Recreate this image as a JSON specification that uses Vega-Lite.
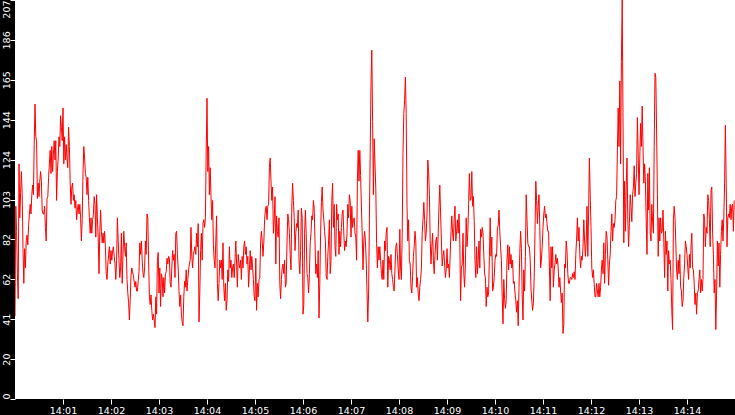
{
  "$schema": "https://vega.github.io/schema/vega-lite/v6.json",
  "width": 720,
  "height": 399,
  "autosize": "none",
  "padding": {"left": 15, "top": 0, "right": 0, "bottom": 16},
  "background": "#000000",
  "view": {"fill": "#ffffff", "stroke": null},
  "data": {
    "format": {"parse": {"t": "date:'%H:%M:%S'"}},
    "values": [
{"t":"14:00:00","v":43},{"t":"14:00:01","v":100},{"t":"14:00:02","v":87},{"t":"14:00:03","v":65},{"t":"14:00:04","v":52},{"t":"14:00:05","v":122},{"t":"14:00:06","v":94},{"t":"14:00:07","v":107},{"t":"14:00:08","v":118},{"t":"14:00:09","v":106},
{"t":"14:00:10","v":78},{"t":"14:00:11","v":60},{"t":"14:00:12","v":78},{"t":"14:00:13","v":68},{"t":"14:00:14","v":82},{"t":"14:00:15","v":85},{"t":"14:00:16","v":80},{"t":"14:00:17","v":90},{"t":"14:00:18","v":96},{"t":"14:00:19","v":101},
{"t":"14:00:20","v":96},{"t":"14:00:21","v":106},{"t":"14:00:22","v":111},{"t":"14:00:23","v":106},{"t":"14:00:24","v":132},{"t":"14:00:25","v":153},{"t":"14:00:26","v":136},{"t":"14:00:27","v":134},{"t":"14:00:28","v":104},{"t":"14:00:29","v":112},
{"t":"14:00:30","v":105},{"t":"14:00:31","v":113},{"t":"14:00:32","v":118},{"t":"14:00:33","v":113},{"t":"14:00:34","v":98},{"t":"14:00:35","v":96},{"t":"14:00:36","v":96},{"t":"14:00:37","v":100},{"t":"14:00:38","v":89},{"t":"14:00:39","v":82},
{"t":"14:00:40","v":104},{"t":"14:00:41","v":105},{"t":"14:00:42","v":115},{"t":"14:00:43","v":122},{"t":"14:00:44","v":129},{"t":"14:00:45","v":117},{"t":"14:00:46","v":131},{"t":"14:00:47","v":118},{"t":"14:00:48","v":127},{"t":"14:00:49","v":134},
{"t":"14:00:50","v":124},{"t":"14:00:51","v":134},{"t":"14:00:52","v":103},{"t":"14:00:53","v":118},{"t":"14:00:54","v":125},{"t":"14:00:55","v":136},{"t":"14:00:56","v":131},{"t":"14:00:57","v":147},{"t":"14:00:58","v":141},{"t":"14:00:59","v":134},
{"t":"14:01:00","v":151},{"t":"14:01:01","v":122},{"t":"14:01:02","v":136},{"t":"14:01:03","v":124},{"t":"14:01:04","v":132},{"t":"14:01:05","v":125},{"t":"14:01:06","v":120},{"t":"14:01:07","v":141},{"t":"14:01:08","v":131},{"t":"14:01:09","v":112},
{"t":"14:01:10","v":101},{"t":"14:01:11","v":110},{"t":"14:01:12","v":112},{"t":"14:01:13","v":103},{"t":"14:01:14","v":106},{"t":"14:01:15","v":99},{"t":"14:01:16","v":103},{"t":"14:01:17","v":93},{"t":"14:01:18","v":98},{"t":"14:01:19","v":101},
{"t":"14:01:20","v":96},{"t":"14:01:21","v":101},{"t":"14:01:22","v":94},{"t":"14:01:23","v":82},{"t":"14:01:24","v":93},{"t":"14:01:25","v":117},{"t":"14:01:26","v":131},{"t":"14:01:27","v":125},{"t":"14:01:28","v":117},{"t":"14:01:29","v":115},
{"t":"14:01:30","v":106},{"t":"14:01:31","v":115},{"t":"14:01:32","v":103},{"t":"14:01:33","v":94},{"t":"14:01:34","v":86},{"t":"14:01:35","v":94},{"t":"14:01:36","v":86},{"t":"14:01:37","v":93},{"t":"14:01:38","v":96},{"t":"14:01:39","v":105},
{"t":"14:01:40","v":101},{"t":"14:01:41","v":84},{"t":"14:01:42","v":106},{"t":"14:01:43","v":94},{"t":"14:01:44","v":84},{"t":"14:01:45","v":65},{"t":"14:01:46","v":87},{"t":"14:01:47","v":98},{"t":"14:01:48","v":87},{"t":"14:01:49","v":81},
{"t":"14:01:50","v":86},{"t":"14:01:51","v":81},{"t":"14:01:52","v":87},{"t":"14:01:53","v":79},{"t":"14:01:54","v":65},{"t":"14:01:55","v":62},{"t":"14:01:56","v":70},{"t":"14:01:57","v":75},{"t":"14:01:58","v":79},{"t":"14:01:59","v":70},
{"t":"14:02:00","v":77},{"t":"14:02:01","v":72},{"t":"14:02:02","v":77},{"t":"14:02:03","v":79},{"t":"14:02:04","v":74},{"t":"14:02:05","v":70},{"t":"14:02:06","v":62},{"t":"14:02:07","v":72},{"t":"14:02:08","v":94},{"t":"14:02:09","v":82},
{"t":"14:02:10","v":72},{"t":"14:02:11","v":63},{"t":"14:02:12","v":68},{"t":"14:02:13","v":86},{"t":"14:02:14","v":60},{"t":"14:02:15","v":75},{"t":"14:02:16","v":87},{"t":"14:02:17","v":79},{"t":"14:02:18","v":74},{"t":"14:02:19","v":81},
{"t":"14:02:20","v":62},{"t":"14:02:21","v":55},{"t":"14:02:22","v":50},{"t":"14:02:23","v":41},{"t":"14:02:24","v":51},{"t":"14:02:25","v":64},{"t":"14:02:26","v":68},{"t":"14:02:27","v":66},{"t":"14:02:28","v":64},{"t":"14:02:29","v":61},
{"t":"14:02:30","v":58},{"t":"14:02:31","v":61},{"t":"14:02:32","v":56},{"t":"14:02:33","v":56},{"t":"14:02:34","v":61},{"t":"14:02:35","v":66},{"t":"14:02:36","v":81},{"t":"14:02:37","v":75},{"t":"14:02:38","v":82},{"t":"14:02:39","v":72},
{"t":"14:02:40","v":65},{"t":"14:02:41","v":63},{"t":"14:02:42","v":68},{"t":"14:02:43","v":82},{"t":"14:02:44","v":75},{"t":"14:02:45","v":96},{"t":"14:02:46","v":94},{"t":"14:02:47","v":72},{"t":"14:02:48","v":53},{"t":"14:02:49","v":49},
{"t":"14:02:50","v":54},{"t":"14:02:51","v":46},{"t":"14:02:52","v":41},{"t":"14:02:53","v":44},{"t":"14:02:54","v":41},{"t":"14:02:55","v":37},{"t":"14:02:56","v":53},{"t":"14:02:57","v":44},{"t":"14:02:58","v":72},{"t":"14:02:59","v":76},
{"t":"14:03:00","v":55},{"t":"14:03:01","v":68},{"t":"14:03:02","v":48},{"t":"14:03:03","v":65},{"t":"14:03:04","v":63},{"t":"14:03:05","v":53},{"t":"14:03:06","v":63},{"t":"14:03:07","v":55},{"t":"14:03:08","v":65},{"t":"14:03:09","v":66},
{"t":"14:03:10","v":73},{"t":"14:03:11","v":70},{"t":"14:03:12","v":74},{"t":"14:03:13","v":73},{"t":"14:03:14","v":60},{"t":"14:03:15","v":58},{"t":"14:03:16","v":68},{"t":"14:03:17","v":77},{"t":"14:03:18","v":72},{"t":"14:03:19","v":75},
{"t":"14:03:20","v":63},{"t":"14:03:21","v":86},{"t":"14:03:22","v":87},{"t":"14:03:23","v":75},{"t":"14:03:24","v":68},{"t":"14:03:25","v":56},{"t":"14:03:26","v":48},{"t":"14:03:27","v":54},{"t":"14:03:28","v":44},{"t":"14:03:29","v":40},
{"t":"14:03:30","v":38},{"t":"14:03:31","v":53},{"t":"14:03:32","v":61},{"t":"14:03:33","v":58},{"t":"14:03:34","v":67},{"t":"14:03:35","v":56},{"t":"14:03:36","v":62},{"t":"14:03:37","v":67},{"t":"14:03:38","v":70},{"t":"14:03:39","v":72},
{"t":"14:03:40","v":89},{"t":"14:03:41","v":74},{"t":"14:03:42","v":68},{"t":"14:03:43","v":75},{"t":"14:03:44","v":77},{"t":"14:03:45","v":79},{"t":"14:03:46","v":75},{"t":"14:03:47","v":86},{"t":"14:03:48","v":79},{"t":"14:03:49","v":91},
{"t":"14:03:50","v":40},{"t":"14:03:51","v":55},{"t":"14:03:52","v":77},{"t":"14:03:53","v":86},{"t":"14:03:54","v":72},{"t":"14:03:55","v":91},{"t":"14:03:56","v":93},{"t":"14:03:57","v":89},{"t":"14:03:58","v":94},{"t":"14:03:59","v":129},
{"t":"14:04:00","v":156},{"t":"14:04:01","v":118},{"t":"14:04:02","v":131},{"t":"14:04:03","v":106},{"t":"14:04:04","v":120},{"t":"14:04:05","v":105},{"t":"14:04:06","v":93},{"t":"14:04:07","v":103},{"t":"14:04:08","v":80},{"t":"14:04:09","v":72},
{"t":"14:04:10","v":68},{"t":"14:04:11","v":82},{"t":"14:04:12","v":95},{"t":"14:04:13","v":60},{"t":"14:04:14","v":51},{"t":"14:04:15","v":60},{"t":"14:04:16","v":72},{"t":"14:04:17","v":68},{"t":"14:04:18","v":72},{"t":"14:04:19","v":62},
{"t":"14:04:20","v":81},{"t":"14:04:21","v":58},{"t":"14:04:22","v":51},{"t":"14:04:23","v":60},{"t":"14:04:24","v":46},{"t":"14:04:25","v":51},{"t":"14:04:26","v":67},{"t":"14:04:27","v":61},{"t":"14:04:28","v":79},{"t":"14:04:29","v":68},
{"t":"14:04:30","v":72},{"t":"14:04:31","v":63},{"t":"14:04:32","v":68},{"t":"14:04:33","v":70},{"t":"14:04:34","v":63},{"t":"14:04:35","v":72},{"t":"14:04:36","v":82},{"t":"14:04:37","v":70},{"t":"14:04:38","v":58},{"t":"14:04:39","v":75},
{"t":"14:04:40","v":70},{"t":"14:04:41","v":68},{"t":"14:04:42","v":72},{"t":"14:04:43","v":62},{"t":"14:04:44","v":74},{"t":"14:04:45","v":68},{"t":"14:04:46","v":79},{"t":"14:04:47","v":82},{"t":"14:04:48","v":75},{"t":"14:04:49","v":79},
{"t":"14:04:50","v":70},{"t":"14:04:51","v":74},{"t":"14:04:52","v":58},{"t":"14:04:53","v":67},{"t":"14:04:54","v":77},{"t":"14:04:55","v":67},{"t":"14:04:56","v":74},{"t":"14:04:57","v":68},{"t":"14:04:58","v":62},{"t":"14:04:59","v":53},
{"t":"14:05:00","v":51},{"t":"14:05:01","v":73},{"t":"14:05:02","v":46},{"t":"14:05:03","v":60},{"t":"14:05:04","v":53},{"t":"14:05:05","v":62},{"t":"14:05:06","v":63},{"t":"14:05:07","v":81},{"t":"14:05:08","v":87},{"t":"14:05:09","v":82},
{"t":"14:05:10","v":74},{"t":"14:05:11","v":81},{"t":"14:05:12","v":93},{"t":"14:05:13","v":98},{"t":"14:05:14","v":100},{"t":"14:05:15","v":93},{"t":"14:05:16","v":100},{"t":"14:05:17","v":101},{"t":"14:05:18","v":120},{"t":"14:05:19","v":125},
{"t":"14:05:20","v":113},{"t":"14:05:21","v":103},{"t":"14:05:22","v":110},{"t":"14:05:23","v":86},{"t":"14:05:24","v":93},{"t":"14:05:25","v":105},{"t":"14:05:26","v":70},{"t":"14:05:27","v":95},{"t":"14:05:28","v":87},{"t":"14:05:29","v":84},
{"t":"14:05:30","v":94},{"t":"14:05:31","v":60},{"t":"14:05:32","v":52},{"t":"14:05:33","v":62},{"t":"14:05:34","v":68},{"t":"14:05:35","v":70},{"t":"14:05:36","v":65},{"t":"14:05:37","v":72},{"t":"14:05:38","v":58},{"t":"14:05:39","v":60},
{"t":"14:05:40","v":81},{"t":"14:05:41","v":96},{"t":"14:05:42","v":93},{"t":"14:05:43","v":86},{"t":"14:05:44","v":75},{"t":"14:05:45","v":67},{"t":"14:05:46","v":100},{"t":"14:05:47","v":112},{"t":"14:05:48","v":103},{"t":"14:05:49","v":94},
{"t":"14:05:50","v":77},{"t":"14:05:51","v":86},{"t":"14:05:52","v":91},{"t":"14:05:53","v":89},{"t":"14:05:54","v":98},{"t":"14:05:55","v":72},{"t":"14:05:56","v":65},{"t":"14:05:57","v":77},{"t":"14:05:58","v":99},{"t":"14:05:59","v":94},
{"t":"14:06:00","v":44},{"t":"14:06:01","v":49},{"t":"14:06:02","v":86},{"t":"14:06:03","v":98},{"t":"14:06:04","v":86},{"t":"14:06:05","v":65},{"t":"14:06:06","v":63},{"t":"14:06:07","v":55},{"t":"14:06:08","v":65},{"t":"14:06:09","v":81},
{"t":"14:06:10","v":86},{"t":"14:06:11","v":95},{"t":"14:06:12","v":93},{"t":"14:06:13","v":103},{"t":"14:06:14","v":99},{"t":"14:06:15","v":82},{"t":"14:06:16","v":65},{"t":"14:06:17","v":70},{"t":"14:06:18","v":63},{"t":"14:06:19","v":77},
{"t":"14:06:20","v":42},{"t":"14:06:21","v":60},{"t":"14:06:22","v":86},{"t":"14:06:23","v":102},{"t":"14:06:24","v":110},{"t":"14:06:25","v":98},{"t":"14:06:26","v":93},{"t":"14:06:27","v":87},{"t":"14:06:28","v":82},{"t":"14:06:29","v":64},
{"t":"14:06:30","v":62},{"t":"14:06:31","v":74},{"t":"14:06:32","v":82},{"t":"14:06:33","v":93},{"t":"14:06:34","v":65},{"t":"14:06:35","v":72},{"t":"14:06:36","v":103},{"t":"14:06:37","v":112},{"t":"14:06:38","v":89},{"t":"14:06:39","v":101},
{"t":"14:06:40","v":79},{"t":"14:06:41","v":74},{"t":"14:06:42","v":101},{"t":"14:06:43","v":93},{"t":"14:06:44","v":96},{"t":"14:06:45","v":75},{"t":"14:06:46","v":87},{"t":"14:06:47","v":79},{"t":"14:06:48","v":89},{"t":"14:06:49","v":96},
{"t":"14:06:50","v":98},{"t":"14:06:51","v":86},{"t":"14:06:52","v":77},{"t":"14:06:53","v":82},{"t":"14:06:54","v":79},{"t":"14:06:55","v":86},{"t":"14:06:56","v":101},{"t":"14:06:57","v":94},{"t":"14:06:58","v":106},{"t":"14:06:59","v":103},
{"t":"14:07:00","v":84},{"t":"14:07:01","v":100},{"t":"14:07:02","v":89},{"t":"14:07:03","v":93},{"t":"14:07:04","v":94},{"t":"14:07:05","v":86},{"t":"14:07:06","v":84},{"t":"14:07:07","v":72},{"t":"14:07:08","v":113},{"t":"14:07:09","v":129},
{"t":"14:07:10","v":113},{"t":"14:07:11","v":129},{"t":"14:07:12","v":116},{"t":"14:07:13","v":100},{"t":"14:07:14","v":86},{"t":"14:07:15","v":67},{"t":"14:07:16","v":82},{"t":"14:07:17","v":87},{"t":"14:07:18","v":82},{"t":"14:07:19","v":72},
{"t":"14:07:20","v":56},{"t":"14:07:21","v":40},{"t":"14:07:22","v":55},{"t":"14:07:23","v":93},{"t":"14:07:24","v":128},{"t":"14:07:25","v":164},{"t":"14:07:26","v":181},{"t":"14:07:27","v":144},{"t":"14:07:28","v":106},{"t":"14:07:29","v":135},
{"t":"14:07:30","v":122},{"t":"14:07:31","v":109},{"t":"14:07:32","v":81},{"t":"14:07:33","v":68},{"t":"14:07:34","v":79},{"t":"14:07:35","v":72},{"t":"14:07:36","v":79},{"t":"14:07:37","v":72},{"t":"14:07:38","v":65},{"t":"14:07:39","v":62},
{"t":"14:07:40","v":72},{"t":"14:07:41","v":62},{"t":"14:07:42","v":82},{"t":"14:07:43","v":77},{"t":"14:07:44","v":86},{"t":"14:07:45","v":89},{"t":"14:07:46","v":58},{"t":"14:07:47","v":74},{"t":"14:07:48","v":72},{"t":"14:07:49","v":67},
{"t":"14:07:50","v":75},{"t":"14:07:51","v":65},{"t":"14:07:52","v":62},{"t":"14:07:53","v":58},{"t":"14:07:54","v":56},{"t":"14:07:55","v":68},{"t":"14:07:56","v":79},{"t":"14:07:57","v":81},{"t":"14:07:58","v":75},{"t":"14:07:59","v":67},
{"t":"14:08:00","v":62},{"t":"14:08:01","v":88},{"t":"14:08:02","v":68},{"t":"14:08:03","v":62},{"t":"14:08:04","v":86},{"t":"14:08:05","v":128},{"t":"14:08:06","v":148},{"t":"14:08:07","v":155},{"t":"14:08:08","v":167},{"t":"14:08:09","v":148},
{"t":"14:08:10","v":100},{"t":"14:08:11","v":82},{"t":"14:08:12","v":93},{"t":"14:08:13","v":72},{"t":"14:08:14","v":70},{"t":"14:08:15","v":58},{"t":"14:08:16","v":55},{"t":"14:08:17","v":64},{"t":"14:08:18","v":74},{"t":"14:08:19","v":79},
{"t":"14:08:20","v":87},{"t":"14:08:21","v":82},{"t":"14:08:22","v":58},{"t":"14:08:23","v":63},{"t":"14:08:24","v":55},{"t":"14:08:25","v":51},{"t":"14:08:26","v":58},{"t":"14:08:27","v":62},{"t":"14:08:28","v":68},{"t":"14:08:29","v":86},
{"t":"14:08:30","v":93},{"t":"14:08:31","v":102},{"t":"14:08:32","v":93},{"t":"14:08:33","v":82},{"t":"14:08:34","v":86},{"t":"14:08:35","v":96},{"t":"14:08:36","v":124},{"t":"14:08:37","v":118},{"t":"14:08:38","v":106},{"t":"14:08:39","v":82},
{"t":"14:08:40","v":70},{"t":"14:08:41","v":79},{"t":"14:08:42","v":86},{"t":"14:08:43","v":72},{"t":"14:08:44","v":65},{"t":"14:08:45","v":75},{"t":"14:08:46","v":82},{"t":"14:08:47","v":84},{"t":"14:08:48","v":72},{"t":"14:08:49","v":86},
{"t":"14:08:50","v":100},{"t":"14:08:51","v":111},{"t":"14:08:52","v":96},{"t":"14:08:53","v":82},{"t":"14:08:54","v":69},{"t":"14:08:55","v":74},{"t":"14:08:56","v":77},{"t":"14:08:57","v":70},{"t":"14:08:58","v":63},{"t":"14:08:59","v":67},
{"t":"14:09:00","v":78},{"t":"14:09:01","v":68},{"t":"14:09:02","v":70},{"t":"14:09:03","v":63},{"t":"14:09:04","v":75},{"t":"14:09:05","v":87},{"t":"14:09:06","v":95},{"t":"14:09:07","v":86},{"t":"14:09:08","v":82},{"t":"14:09:09","v":94},
{"t":"14:09:10","v":100},{"t":"14:09:11","v":82},{"t":"14:09:12","v":87},{"t":"14:09:13","v":93},{"t":"14:09:14","v":86},{"t":"14:09:15","v":96},{"t":"14:09:16","v":82},{"t":"14:09:17","v":51},{"t":"14:09:18","v":68},{"t":"14:09:19","v":70},
{"t":"14:09:20","v":86},{"t":"14:09:21","v":65},{"t":"14:09:22","v":58},{"t":"14:09:23","v":70},{"t":"14:09:24","v":94},{"t":"14:09:25","v":79},{"t":"14:09:26","v":86},{"t":"14:09:27","v":101},{"t":"14:09:28","v":117},{"t":"14:09:29","v":103},
{"t":"14:09:30","v":104},{"t":"14:09:31","v":118},{"t":"14:09:32","v":100},{"t":"14:09:33","v":105},{"t":"14:09:34","v":93},{"t":"14:09:35","v":72},{"t":"14:09:36","v":63},{"t":"14:09:37","v":79},{"t":"14:09:38","v":65},{"t":"14:09:39","v":72},
{"t":"14:09:40","v":82},{"t":"14:09:41","v":68},{"t":"14:09:42","v":88},{"t":"14:09:43","v":84},{"t":"14:09:44","v":89},{"t":"14:09:45","v":86},{"t":"14:09:46","v":75},{"t":"14:09:47","v":65},{"t":"14:09:48","v":63},{"t":"14:09:49","v":48},
{"t":"14:09:50","v":58},{"t":"14:09:51","v":53},{"t":"14:09:52","v":55},{"t":"14:09:53","v":74},{"t":"14:09:54","v":94},{"t":"14:09:55","v":74},{"t":"14:09:56","v":84},{"t":"14:09:57","v":56},{"t":"14:09:58","v":58},{"t":"14:09:59","v":63},
{"t":"14:10:00","v":72},{"t":"14:10:01","v":75},{"t":"14:10:02","v":74},{"t":"14:10:03","v":89},{"t":"14:10:04","v":90},{"t":"14:10:05","v":98},{"t":"14:10:06","v":87},{"t":"14:10:07","v":79},{"t":"14:10:08","v":72},{"t":"14:10:09","v":53},
{"t":"14:10:10","v":39},{"t":"14:10:11","v":62},{"t":"14:10:12","v":52},{"t":"14:10:13","v":47},{"t":"14:10:14","v":51},{"t":"14:10:15","v":72},{"t":"14:10:16","v":80},{"t":"14:10:17","v":67},{"t":"14:10:18","v":79},{"t":"14:10:19","v":70},
{"t":"14:10:20","v":75},{"t":"14:10:21","v":68},{"t":"14:10:22","v":72},{"t":"14:10:23","v":60},{"t":"14:10:24","v":61},{"t":"14:10:25","v":55},{"t":"14:10:26","v":51},{"t":"14:10:27","v":45},{"t":"14:10:28","v":51},{"t":"14:10:29","v":38},
{"t":"14:10:30","v":58},{"t":"14:10:31","v":76},{"t":"14:10:32","v":87},{"t":"14:10:33","v":78},{"t":"14:10:34","v":54},{"t":"14:10:35","v":41},{"t":"14:10:36","v":67},{"t":"14:10:37","v":56},{"t":"14:10:38","v":74},{"t":"14:10:39","v":106},
{"t":"14:10:40","v":93},{"t":"14:10:41","v":81},{"t":"14:10:42","v":79},{"t":"14:10:43","v":79},{"t":"14:10:44","v":72},{"t":"14:10:45","v":57},{"t":"14:10:46","v":51},{"t":"14:10:47","v":46},{"t":"14:10:48","v":50},{"t":"14:10:49","v":63},
{"t":"14:10:50","v":87},{"t":"14:10:51","v":113},{"t":"14:10:52","v":103},{"t":"14:10:53","v":91},{"t":"14:10:54","v":100},{"t":"14:10:55","v":106},{"t":"14:10:56","v":89},{"t":"14:10:57","v":68},{"t":"14:10:58","v":72},{"t":"14:10:59","v":79},
{"t":"14:11:00","v":89},{"t":"14:11:01","v":96},{"t":"14:11:02","v":100},{"t":"14:11:03","v":94},{"t":"14:11:04","v":96},{"t":"14:11:05","v":91},{"t":"14:11:06","v":87},{"t":"14:11:07","v":87},{"t":"14:11:08","v":68},{"t":"14:11:09","v":51},
{"t":"14:11:10","v":79},{"t":"14:11:11","v":68},{"t":"14:11:12","v":79},{"t":"14:11:13","v":58},{"t":"14:11:14","v":67},{"t":"14:11:15","v":70},{"t":"14:11:16","v":75},{"t":"14:11:17","v":70},{"t":"14:11:18","v":73},{"t":"14:11:19","v":68},
{"t":"14:11:20","v":58},{"t":"14:11:21","v":63},{"t":"14:11:22","v":56},{"t":"14:11:23","v":50},{"t":"14:11:24","v":55},{"t":"14:11:25","v":34},{"t":"14:11:26","v":39},{"t":"14:11:27","v":70},{"t":"14:11:28","v":68},{"t":"14:11:29","v":82},
{"t":"14:11:30","v":77},{"t":"14:11:31","v":65},{"t":"14:11:32","v":60},{"t":"14:11:33","v":60},{"t":"14:11:34","v":63},{"t":"14:11:35","v":63},{"t":"14:11:36","v":62},{"t":"14:11:37","v":65},{"t":"14:11:38","v":63},{"t":"14:11:39","v":66},
{"t":"14:11:40","v":62},{"t":"14:11:41","v":75},{"t":"14:11:42","v":83},{"t":"14:11:43","v":94},{"t":"14:11:44","v":82},{"t":"14:11:45","v":89},{"t":"14:11:46","v":75},{"t":"14:11:47","v":68},{"t":"14:11:48","v":74},{"t":"14:11:49","v":72},
{"t":"14:11:50","v":79},{"t":"14:11:51","v":93},{"t":"14:11:52","v":82},{"t":"14:11:53","v":74},{"t":"14:11:54","v":82},{"t":"14:11:55","v":100},{"t":"14:11:56","v":74},{"t":"14:11:57","v":96},{"t":"14:11:58","v":125},{"t":"14:11:59","v":106},
{"t":"14:12:00","v":89},{"t":"14:12:01","v":68},{"t":"14:12:02","v":63},{"t":"14:12:03","v":67},{"t":"14:12:04","v":60},{"t":"14:12:05","v":53},{"t":"14:12:06","v":53},{"t":"14:12:07","v":60},{"t":"14:12:08","v":56},{"t":"14:12:09","v":53},
{"t":"14:12:10","v":60},{"t":"14:12:11","v":53},{"t":"14:12:12","v":58},{"t":"14:12:13","v":67},{"t":"14:12:14","v":72},{"t":"14:12:15","v":65},{"t":"14:12:16","v":81},{"t":"14:12:17","v":60},{"t":"14:12:18","v":75},{"t":"14:12:19","v":87},
{"t":"14:12:20","v":84},{"t":"14:12:21","v":72},{"t":"14:12:22","v":59},{"t":"14:12:23","v":70},{"t":"14:12:24","v":75},{"t":"14:12:25","v":87},{"t":"14:12:26","v":96},{"t":"14:12:27","v":82},{"t":"14:12:28","v":91},{"t":"14:12:29","v":89},
{"t":"14:12:30","v":93},{"t":"14:12:31","v":103},{"t":"14:12:32","v":105},{"t":"14:12:33","v":129},{"t":"14:12:34","v":151},{"t":"14:12:35","v":131},{"t":"14:12:36","v":165},{"t":"14:12:37","v":122},{"t":"14:12:38","v":175},{"t":"14:12:39","v":207},
{"t":"14:12:40","v":146},{"t":"14:12:41","v":81},{"t":"14:12:42","v":113},{"t":"14:12:43","v":87},{"t":"14:12:44","v":110},{"t":"14:12:45","v":125},{"t":"14:12:46","v":93},{"t":"14:12:47","v":79},{"t":"14:12:48","v":91},{"t":"14:12:49","v":106},
{"t":"14:12:50","v":100},{"t":"14:12:51","v":92},{"t":"14:12:52","v":106},{"t":"14:12:53","v":110},{"t":"14:12:54","v":121},{"t":"14:12:55","v":105},{"t":"14:12:56","v":112},{"t":"14:12:57","v":117},{"t":"14:12:58","v":146},{"t":"14:12:59","v":127},
{"t":"14:13:00","v":106},{"t":"14:13:01","v":125},{"t":"14:13:02","v":143},{"t":"14:13:03","v":131},{"t":"14:13:04","v":152},{"t":"14:13:05","v":131},{"t":"14:13:06","v":112},{"t":"14:13:07","v":122},{"t":"14:13:08","v":113},{"t":"14:13:09","v":93},
{"t":"14:13:10","v":75},{"t":"14:13:11","v":117},{"t":"14:13:12","v":98},{"t":"14:13:13","v":120},{"t":"14:13:14","v":86},{"t":"14:13:15","v":82},{"t":"14:13:16","v":101},{"t":"14:13:17","v":92},{"t":"14:13:18","v":86},{"t":"14:13:19","v":131},
{"t":"14:13:20","v":169},{"t":"14:13:21","v":167},{"t":"14:13:22","v":139},{"t":"14:13:23","v":106},{"t":"14:13:24","v":74},{"t":"14:13:25","v":94},{"t":"14:13:26","v":82},{"t":"14:13:27","v":94},{"t":"14:13:28","v":86},{"t":"14:13:29","v":87},
{"t":"14:13:30","v":98},{"t":"14:13:31","v":82},{"t":"14:13:32","v":63},{"t":"14:13:33","v":87},{"t":"14:13:34","v":75},{"t":"14:13:35","v":82},{"t":"14:13:36","v":56},{"t":"14:13:37","v":77},{"t":"14:13:38","v":70},{"t":"14:13:39","v":72},
{"t":"14:13:40","v":62},{"t":"14:13:41","v":46},{"t":"14:13:42","v":36},{"t":"14:13:43","v":93},{"t":"14:13:44","v":100},{"t":"14:13:45","v":94},{"t":"14:13:46","v":81},{"t":"14:13:47","v":67},{"t":"14:13:48","v":62},{"t":"14:13:49","v":72},
{"t":"14:13:50","v":65},{"t":"14:13:51","v":75},{"t":"14:13:52","v":58},{"t":"14:13:53","v":56},{"t":"14:13:54","v":48},{"t":"14:13:55","v":51},{"t":"14:13:56","v":63},{"t":"14:13:57","v":70},{"t":"14:13:58","v":82},{"t":"14:13:59","v":79},
{"t":"14:14:00","v":75},{"t":"14:14:01","v":68},{"t":"14:14:02","v":62},{"t":"14:14:03","v":75},{"t":"14:14:04","v":68},{"t":"14:14:05","v":79},{"t":"14:14:06","v":86},{"t":"14:14:07","v":68},{"t":"14:14:08","v":67},{"t":"14:14:09","v":60},
{"t":"14:14:10","v":49},{"t":"14:14:11","v":55},{"t":"14:14:12","v":44},{"t":"14:14:13","v":55},{"t":"14:14:14","v":56},{"t":"14:14:15","v":62},{"t":"14:14:16","v":67},{"t":"14:14:17","v":55},{"t":"14:14:18","v":62},{"t":"14:14:19","v":56},
{"t":"14:14:20","v":62},{"t":"14:14:21","v":96},{"t":"14:14:22","v":93},{"t":"14:14:23","v":79},{"t":"14:14:24","v":89},{"t":"14:14:25","v":86},{"t":"14:14:26","v":106},{"t":"14:14:27","v":103},{"t":"14:14:28","v":93},{"t":"14:14:29","v":79},
{"t":"14:14:30","v":108},{"t":"14:14:31","v":110},{"t":"14:14:32","v":86},{"t":"14:14:33","v":75},{"t":"14:14:34","v":55},{"t":"14:14:35","v":62},{"t":"14:14:36","v":36},{"t":"14:14:37","v":55},{"t":"14:14:38","v":82},{"t":"14:14:39","v":69},
{"t":"14:14:40","v":81},{"t":"14:14:41","v":58},{"t":"14:14:42","v":75},{"t":"14:14:43","v":87},{"t":"14:14:44","v":93},{"t":"14:14:45","v":82},{"t":"14:14:46","v":94},{"t":"14:14:47","v":112},{"t":"14:14:48","v":142},{"t":"14:14:49","v":112},
{"t":"14:14:50","v":79},{"t":"14:14:51","v":94},{"t":"14:14:52","v":96},{"t":"14:14:53","v":94},{"t":"14:14:54","v":101},{"t":"14:14:55","v":93},{"t":"14:14:56","v":100},{"t":"14:14:57","v":101},{"t":"14:14:58","v":87},{"t":"14:14:59","v":103}
    ]
  },
  "mark": {"type": "line", "color": "#ff0000", "strokeWidth": 1, "clip": true},
  "encoding": {
    "x": {
      "field": "t",
      "type": "temporal",
      "timeUnit": "hoursminutesseconds",
      "scale": {"domain": [{"hours": 14, "minutes": 0, "seconds": 0}, {"hours": 14, "minutes": 15, "seconds": 0}]},
      "axis": {
        "title": null,
        "values": [
          {"hours": 14, "minutes": 1}, {"hours": 14, "minutes": 2}, {"hours": 14, "minutes": 3}, {"hours": 14, "minutes": 4},
          {"hours": 14, "minutes": 5}, {"hours": 14, "minutes": 6}, {"hours": 14, "minutes": 7}, {"hours": 14, "minutes": 8},
          {"hours": 14, "minutes": 9}, {"hours": 14, "minutes": 10}, {"hours": 14, "minutes": 11}, {"hours": 14, "minutes": 12},
          {"hours": 14, "minutes": 13}, {"hours": 14, "minutes": 14}
        ],
        "format": "%H:%M",
        "labelColor": "#ffffff",
        "labelFont": "DejaVu Sans",
        "labelFontSize": 9.5,
        "labelPadding": 1,
        "labelOverlap": false,
        "labelFlush": false,
        "tickColor": "#ffffff",
        "tickSize": 5,
        "domain": false,
        "grid": false
      }
    },
    "y": {
      "field": "v",
      "type": "quantitative",
      "scale": {"domain": [0, 207], "nice": false, "zero": true},
      "axis": {
        "title": null,
        "values": [0, 20.7, 41.4, 62.1, 82.8, 103.5, 124.2, 144.9, 165.6, 186.3, 207],
        "labelExpr": "'' + floor(datum.value + 0.0001)",
        "labelAngle": -90,
        "labelBaseline": "alphabetic",
        "labelAlign": {
          "condition": [
            {"test": "datum.value < 1", "value": "left"},
            {"test": "datum.value > 206", "value": "right"}
          ],
          "value": "center"
        },
        "labelColor": "#ffffff",
        "labelFont": "DejaVu Sans",
        "labelFontSize": 9.5,
        "labelPadding": 1,
        "labelOverlap": false,
        "labelFlush": false,
        "tickColor": "#ffffff",
        "tickSize": 5,
        "domain": false,
        "grid": false
      }
    }
  }
}
